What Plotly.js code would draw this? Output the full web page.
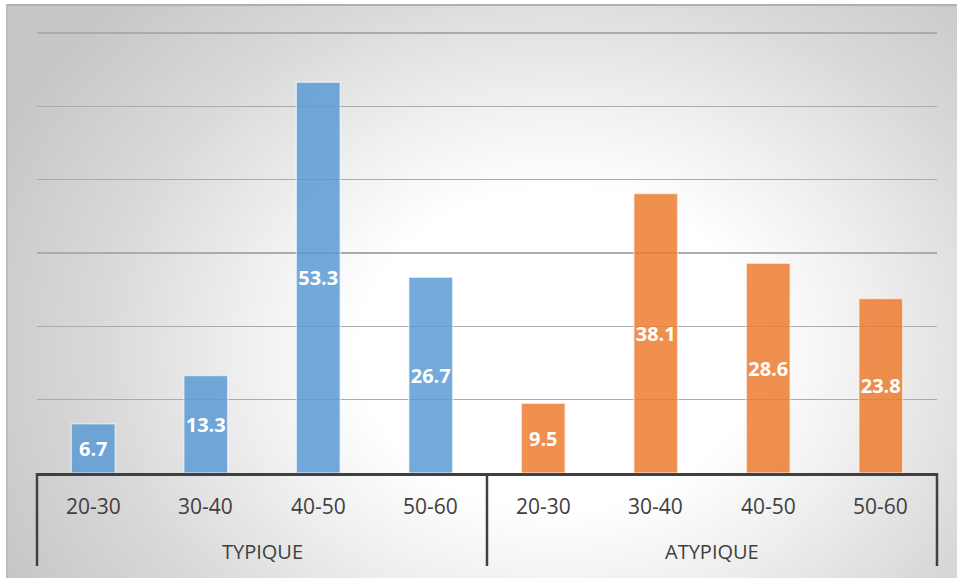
<!DOCTYPE html>
<html>
<head>
<meta charset="utf-8">
<script src="https://cdn.plot.ly/plotly-3.0.1.min.js"></script>
<style>
  html, body { margin: 0; padding: 0; background: #ffffff; }
  #frame {
    position: absolute; left: 6px; top: 4px; width: 951px; height: 574px;
    border-top: 2px solid #b0b0b0; border-left: 2px solid #bdbdbd;
    box-sizing: border-box;
    background: radial-gradient(ellipse 620px 500px at 58% 60%, #ffffff 0%, #ffffff 32%, #eeeeee 52%, #d9d9d9 74%, #c6c6c6 100%);
  }
  #chart { position: absolute; left: 0; top: 0; width: 957px; height: 578px; }
</style>
</head>
<body>
<div id="frame"></div>
<div id="chart"></div>
<script>
// Age bands and group names
const groups = ["TYPIQUE", "ATYPIQUE"];
const ageBands = ["20-30", "30-40", "40-50", "50-60"];

// Percentages per age band
const typiqueValues = [6.7, 13.3, 53.3, 26.7];
const atypiqueValues = [9.5, 38.1, 28.6, 23.8];

function barTrace(group, values, color) {
  return {
    type: "bar",
    x: [ageBands.map(() => group), ageBands],
    y: values,
    text: values.map(v => v.toFixed(1)),
    textposition: "inside",
    insidetextanchor: "middle",
    textangle: 0,
    constraintext: "none",
    textfont: { family: "Open Sans, sans-serif", size: 20, color: "#ffffff", weight: 700 },
    marker: { color: color, opacity: 0.85, line: { color: "rgba(255,255,255,0.6)", width: 1.5 } },
    width: 0.39,
    hoverinfo: "skip",
    cliponaxis: false
  };
}

const data = [
  barTrace(groups[0], typiqueValues, "#5B9BD5"),
  barTrace(groups[1], atypiqueValues, "#ED7D31")
];

// Two-level category labels and the group dividers below the axis
const nCats = groups.length * ageBands.length;
const plotTop = 30, plotBottom = 473, plotH = plotBottom - plotTop;
const toPaperY = px => (plotBottom - px) / plotH;

const annotations = [];
groups.forEach((g, gi) => {
  ageBands.forEach((b, bi) => {
    annotations.push({
      xref: "paper", yref: "paper",
      x: (gi * ageBands.length + bi + 0.5) / nCats, y: toPaperY(506),
      text: b, showarrow: false, xanchor: "center", yanchor: "middle",
      font: { size: 21, color: "#404040" }
    });
  });
  annotations.push({
    xref: "paper", yref: "paper",
    x: (gi + 0.5) / groups.length, y: toPaperY(551),
    text: g, showarrow: false, xanchor: "center", yanchor: "middle",
    font: { size: 20, color: "#404040" }
  });
});

const shapes = [];
for (let k = 0; k <= groups.length; k++) {
  shapes.push({
    type: "line", xref: "paper", yref: "paper",
    x0: k / groups.length, x1: k / groups.length,
    y0: 0, y1: toPaperY(566),
    line: { color: "#404040", width: 2.5 }
  });
}

const layout = {
  width: 957,
  height: 578,
  margin: { l: 37, r: 20, t: plotTop, b: 578 - plotBottom },
  paper_bgcolor: "rgba(0,0,0,0)",
  plot_bgcolor: "rgba(0,0,0,0)",
  barmode: "overlay",
  showlegend: false,
  font: { family: "Open Sans, sans-serif", color: "#404040" },
  xaxis: {
    type: "multicategory",
    showline: true,
    linecolor: "#404040",
    linewidth: 2.5,
    ticks: "",
    showgrid: false,
    showdividers: false,
    showticklabels: false
  },
  yaxis: {
    range: [0, 60 * plotH / (plotBottom - 33)],
    tickvals: [10, 20, 30, 40, 50, 60],
    showticklabels: false,
    showline: false,
    zeroline: false,
    gridcolor: "#ababab",
    gridwidth: 1.5
  },
  annotations: annotations,
  shapes: shapes
};

Plotly.newPlot("chart", data, layout, { displayModeBar: false, staticPlot: true });
</script>
</body>
</html>
